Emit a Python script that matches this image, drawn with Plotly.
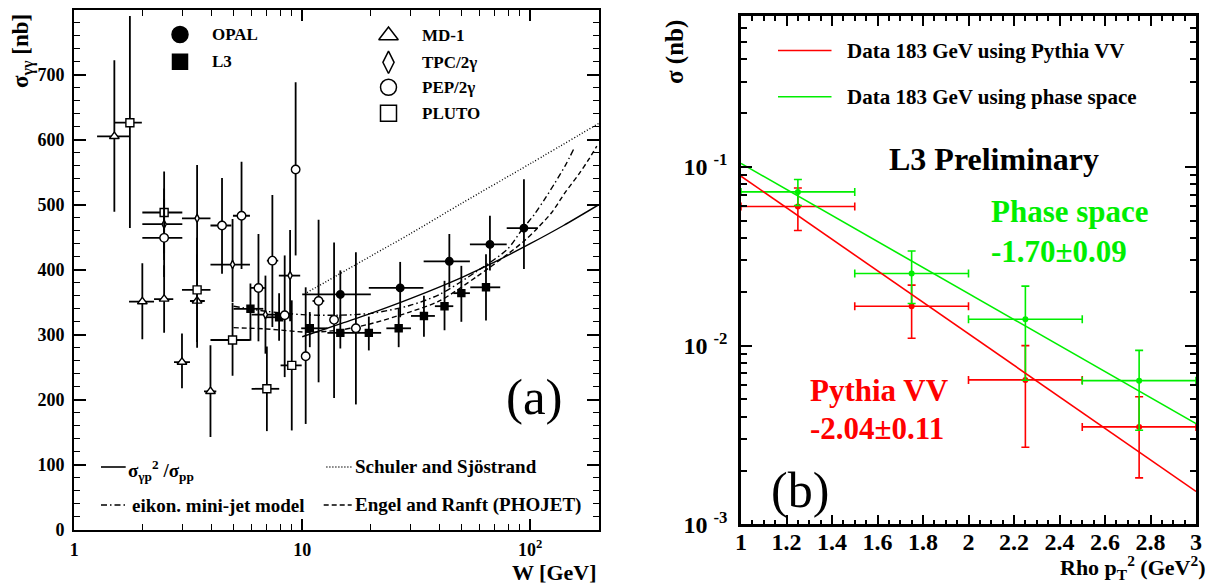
import plotly.graph_objects as go

# ================= Panel (a) data: sigma_gg vs W =================
# MD-1 (open triangles)
md1_W   = [1.50, 1.99, 2.48, 2.97, 3.46, 3.96]
md1_sig = [605, 351, 355, 258, 352, 213]
md1_up  = [117, 59, 52, 44, 72, 71]
md1_dn  = [116, 58, 52, 40, 72, 70]
md1_Wlo = [1.26, 1.74, 2.24, 2.74, 3.22, 3.71]
md1_Whi = [1.74, 2.24, 2.72, 3.22, 3.74, 4.20]
# TPC/2gamma (small open diamonds)
tpc_W   = [2.48, 3.46, 4.95, 6.90, 8.85]
tpc_sig = [470, 479, 408, 331, 391]
tpc_up  = [55, 82, 70, 60, 70]
tpc_dn  = [55, 82, 58, 60, 70]
tpc_Wlo = [1.99, 2.97, 3.96, 6.00, 7.90]
tpc_Whi = [2.98, 3.96, 5.90, 8.00, 9.80]
# PEP/2gamma (open circles)
pep_W   = [2.48, 4.45, 5.42, 6.43, 7.40, 8.38, 9.36, 10.36, 11.8, 13.8, 17.2]
pep_sig = [449, 468, 483, 372, 414, 330, 554, 267, 352, 323, 310]
pep_up  = [60, 73, 83, 83, 101, 92, 134, 106, 125, 119, 117]
pep_dn  = [60, 74, 82, 82, 102, 95, 132, 104, 125, 120, 117]
pep_Wlo = [1.99, 3.96, 4.97, 5.93, 7.00, 7.95, 9.36, 10.36, 11.1, 13.2, 16.3]
pep_Whi = [2.98, 4.89, 5.90, 6.86, 7.85, 8.90, 9.36, 10.36, 12.5, 14.3, 18.1]
# PLUTO (open squares)
pluto_W   = [1.755, 2.48, 3.46, 4.95, 7.00, 9.00]
pluto_sig = [626, 488, 369, 292, 217, 253]
pluto_up  = [164, 63, 80, 57, 65, 100]
pluto_dn  = [162, 63, 80, 55, 65, 100]
pluto_Wlo = [1.51, 1.99, 2.97, 3.96, 6.00, 8.04]
pluto_Whi = [1.98, 2.98, 3.96, 5.90, 7.93, 9.95]
# OPAL (filled circles)
opal_W   = [14.7, 26.9, 44.2, 66.6, 93.9]
opal_sig = [362, 372, 413, 439, 464]
opal_up  = [37, 40, 42, 44, 75]
opal_dn  = [37, 45, 40, 40, 63]
opal_Wlo = [10.0, 19.6, 34.1, 54.4, 78.9]
opal_Whi = [20.0, 34.0, 54.4, 78.9, 108.0]
# L3 (filled squares)
l3_W   = [5.93, 7.92, 10.8, 14.7, 19.6, 26.5, 34.2, 42.1, 49.9, 64.0]
l3_sig = [340, 327, 310, 303, 303, 310, 329, 344, 364, 373]
l3_up  = [39, 37, 25, 28, 25, 30, 31, 39, 42, 51]
l3_dn  = [49, 36, 29, 24, 27, 29, 32, 37, 44, 51]
l3_Wlo = [5.0, 6.8, 9.9, 12.9, 17.3, 23.4, 30.0, 38.2, 46.0, 54.6]
l3_Whi = [6.75, 8.8, 12.9, 17.3, 22.2, 30.0, 38.2, 46.0, 54.4, 73.9]
# model curves
ratio_W   = [10, 15, 20, 30, 50, 70, 100, 140, 200]
ratio_sig = [297, 318, 333, 356, 388, 412, 440, 468, 500]
ss_W   = [10.5, 20, 30, 50, 100, 200]
ss_sig = [365, 421, 456, 502, 563, 625]
eik_W   = [5, 7, 10, 14, 20, 29.6, 40, 58.6, 79.7, 91.4, 104.8, 116, 128.7, 142.5, 155]
eik_sig = [344, 336, 331, 330, 333, 345, 362, 398, 432, 460, 486, 509, 534, 560, 585]
pho_W   = [5, 7, 10.8, 15, 20, 29.6, 40, 58.6, 79.7, 94.6, 108.4, 124.3, 142.5, 163.5, 181, 196]
pho_sig = [311, 309, 304, 308, 317, 335, 352, 390, 424, 445, 465, 488, 519, 547, 570, 590]

a_xtickvals = [1, 10, 100]
a_xticktext = ["1", "10", "10<sup>2</sup>"]
a_xminor = [2, 3, 4, 5, 6, 7, 8, 9, 20, 30, 40, 50, 60, 70, 80, 90, 200]

# ================= Panel (b) data: sigma vs rho pT^2 =================
pt2      = [1.25, 1.75, 2.25, 2.75]
pt2_lo   = [1.0, 1.5, 2.0, 2.5]
pt2_hi   = [1.5, 2.0, 2.5, 3.0]
pyth_sig = [0.0600, 0.0166, 0.00643, 0.00351]
pyth_hi  = [0.0762, 0.0218, 0.0100, 0.00518]
pyth_lo  = [0.0440, 0.0110, 0.00270, 0.00182]
ps_sig   = [0.0724, 0.0253, 0.01403, 0.00637]
ps_hi    = [0.0849, 0.0338, 0.0215, 0.00940]
ps_lo    = [0.0608, 0.0172, 0.0064, 0.00336]
fit_pt2  = [1.0, 3.0]
pyth_fit = [0.0886, 0.00153]
ps_fit   = [0.1045, 0.00366]

b_xtickvals = [1.0, 1.2, 1.4, 1.6, 1.8, 2.0, 2.2, 2.4, 2.6, 2.8, 3.0]
b_xticktext = ["1", "1.2", "1.4", "1.6", "1.8", "2", "2.2", "2.4", "2.6", "2.8", "3"]
b_ytickvals = [0.001, 0.01, 0.1]
b_yticktext = ["10\u00a0<sup>-3</sup>", "10\u00a0<sup>-2</sup>", "10\u00a0<sup>-1</sup>"]
b_yminor = [k * 1e-3 for k in range(2, 10)] + [k * 1e-2 for k in range(2, 10)] + [k * 1e-1 for k in range(2, 7)]

# ================= styling / layout constants =================
SERIF = "Liberation Serif, Tinos, Times New Roman, serif"
W_PX, H_PX = 1209, 586
RED, GREEN = "#ff0000", "#00ee00"

fig = go.Figure()


def diff_hi(hi, v):
    return [h - x for h, x in zip(hi, v)]


def diff_lo(v, lo):
    return [x - l for x, l in zip(v, lo)]


def add_a(W, s, up, dn, Wlo, Whi, symbol, size, fill, name):
    fig.add_trace(go.Scatter(
        x=W, y=s, mode="markers", name=name, xaxis="x", yaxis="y", showlegend=False,
        marker=dict(symbol=symbol, size=size, color=fill, line=dict(color="black", width=1.4)),
        error_y=dict(type="data", symmetric=False, array=up, arrayminus=dn,
                     color="black", thickness=1.8, width=0),
        error_x=dict(type="data", symmetric=False, array=diff_hi(Whi, W), arrayminus=diff_lo(W, Wlo),
                     color="black", thickness=1.8, width=0),
    ))


# model curves (a)
curve_style = [
    (ratio_W, ratio_sig, "solid", "ratio"),
    (ss_W, ss_sig, "1px,2px", "Schuler and Sjöstrand"),
    (eik_W, eik_sig, "6px,3px,1.5px,3px", "eikon. mini-jet model"),
    (pho_W, pho_sig, "5px,3px", "Engel and Ranft (PHOJET)"),
]
for xs, ys, dash, nm in curve_style:
    fig.add_trace(go.Scatter(x=xs, y=ys, mode="lines", name=nm, xaxis="x", yaxis="y", showlegend=False,
                             line=dict(color="black", width=1.4, dash=dash, shape="spline", smoothing=0.8)))

add_a(l3_W, l3_sig, l3_up, l3_dn, l3_Wlo, l3_Whi, "square", 7, "black", "L3")
add_a(opal_W, opal_sig, opal_up, opal_dn, opal_Wlo, opal_Whi, "circle", 7.5, "black", "OPAL")
add_a(md1_W, md1_sig, md1_up, md1_dn, md1_Wlo, md1_Whi, "triangle-up", 8.5, "white", "MD-1")
add_a(pluto_W, pluto_sig, pluto_up, pluto_dn, pluto_Wlo, pluto_Whi, "square", 8, "white", "PLUTO")
add_a(tpc_W, tpc_sig, tpc_up, tpc_dn, tpc_Wlo, tpc_Whi, "diamond-tall", 6, "white", "TPC/2γ")
add_a(pep_W, pep_sig, pep_up, pep_dn, pep_Wlo, pep_Whi, "circle", 8.5, "white", "PEP/2γ")

# panel (b)
for sig, hi, lo, col, nm in [(pyth_sig, pyth_hi, pyth_lo, RED, "Pythia VV"),
                             (ps_sig, ps_hi, ps_lo, GREEN, "phase space")]:
    fig.add_trace(go.Scatter(
        x=pt2, y=sig, mode="markers", name=nm, xaxis="x2", yaxis="y2", showlegend=False,
        marker=dict(symbol="circle", size=6, color=col),
        error_y=dict(type="data", symmetric=False, array=diff_hi(hi, sig), arrayminus=diff_lo(sig, lo),
                     color=col, thickness=1.6, width=4),
        error_x=dict(type="data", symmetric=False, array=diff_hi(pt2_hi, pt2), arrayminus=diff_lo(pt2, pt2_lo),
                     color=col, thickness=1.6, width=4),
    ))
fig.add_trace(go.Scatter(x=fit_pt2, y=pyth_fit, mode="lines", xaxis="x2", yaxis="y2", showlegend=False,
                         line=dict(color=RED, width=1.6), name="fit Pythia"))
fig.add_trace(go.Scatter(x=fit_pt2, y=ps_fit, mode="lines", xaxis="x2", yaxis="y2", showlegend=False,
                         line=dict(color=GREEN, width=1.6), name="fit phase space"))

# ---------- legend keys on a pixel-space overlay (x3/y3) ----------
legend_markers = [
    # (x_px, y_px, symbol, size, fill)
    (180, 34.5, "circle", 16, "black"),
    (180, 61.7, "square", 15, "black"),
    (388.5, 35.5, "triangle-up", 17, "white"),
    (388.5, 62.3, "diamond-tall", 16, "white"),
    (388.5, 87.3, "circle", 16, "white"),
    (388.5, 113.3, "square", 16, "white"),
]
for xp, yp, sym, sz, fill in legend_markers:
    fig.add_trace(go.Scatter(x=[xp], y=[yp], mode="markers", xaxis="x3", yaxis="y3", showlegend=False,
                             hoverinfo="skip",
                             marker=dict(symbol=sym, size=sz, color=fill, line=dict(color="black", width=1.5))))
legend_lines = [
    # (x0, x1, y, color, dash)
    (101, 125.7, 467, "black", "solid"),
    (326.4, 352.4, 467, "black", "1px,2px"),
    (101, 125.7, 505, "black", "6px,3px,1.5px,3px"),
    (323.7, 351.7, 505, "black", "5px,3px"),
    (778, 831.5, 50.5, RED, "solid"),
    (778, 831.5, 96.8, GREEN, "solid"),
]
for x0, x1, yp, col, dash in legend_lines:
    fig.add_trace(go.Scatter(x=[x0, x1], y=[yp, yp], mode="lines", xaxis="x3", yaxis="y3", showlegend=False,
                             hoverinfo="skip", line=dict(color=col, width=1.6, dash=dash)))


def ann(text, x, y, size, color="black", xanchor="left", yanchor="middle", weight="bold", angle=0):
    fig.add_annotation(text=text, x=x, y=y, xref="x3", yref="y3", showarrow=False,
                       xanchor=xanchor, yanchor=yanchor, textangle=angle,
                       font=dict(family=SERIF, size=size, color=color, weight=weight))


# panel (a) texts
ann("OPAL", 210, 34.5, 17)
ann("L3", 210, 61.7, 17)
ann("MD-1", 420, 35.5, 17)
ann("TPC/2γ", 420, 62.3, 17)
ann("PEP/2γ", 420, 87.3, 17)
ann("PLUTO", 420, 113.3, 17)
ann("σ<sub>γp</sub><sup>2</sup> /σ<sub>pp</sub>", 126, 470, 19)
ann("Schuler and Sjöstrand", 353, 466, 19)
ann("eikon. mini-jet model", 130, 505, 19)
ann("Engel and Ranft (PHOJET)", 353, 505, 19)
ann("(a)", 534.5, 396.7, 51, xanchor="center", weight="normal")
ann("W [GeV]", 599, 572, 22, xanchor="right")
ann("σ<sub>γγ</sub> [nb]", 22, 51, 23, xanchor="center", angle=-90)
# panel (b) texts
ann("Data 183 GeV using Pythia VV", 845, 50.7, 21)
ann("Data 183 GeV using phase space", 845, 97, 21)
ann("L3 Preliminary", 994, 158.6, 32, xanchor="center")
ann("Phase space", 989, 211.4, 31, color=GREEN)
ann("-1.70±0.09", 989, 251, 31, color=GREEN)
ann("Pythia VV", 808, 390, 31, color=RED)
ann("-2.04±0.11", 808, 428.5, 31, color=RED)
ann("(b)", 800, 490, 50, xanchor="center", weight="normal")
ann("Rho p<sub>T</sub><sup>2</sup> (GeV<sup>2</sup>)", 1207, 585, 22, xanchor="right", yanchor="bottom")
ann("σ (nb)", 675, 52, 25, xanchor="center", angle=-90)

# ---------------- axes ----------------
dom_ax = [74.2 / W_PX, 598.8 / W_PX]
dom_ay = [1 - 530 / H_PX, 1 - 9.5 / H_PX]
dom_bx = [741 / W_PX, 1196 / W_PX]
dom_by = [1 - 524.4 / H_PX, 1 - 16.1 / H_PX]

tick_a = dict(family=SERIF, size=18, color="black", weight="bold")
tick_b = dict(family=SERIF, size=24, color="black", weight="bold")
frame = dict(showline=True, linecolor="black", mirror="allticks", ticks="inside", tickcolor="black",
             showgrid=False, zeroline=False, fixedrange=True, automargin=False)

fig.update_layout(
    width=W_PX, height=H_PX, autosize=False,
    margin=dict(l=0, r=0, t=0, b=0, pad=0, autoexpand=False),
    paper_bgcolor="white", plot_bgcolor="rgba(0,0,0,0)",
    showlegend=False,
    xaxis=dict(domain=dom_ax, anchor="y", type="log", range=[0, 2.301],
               tickmode="array", tickvals=a_xtickvals, ticktext=a_xticktext,
               ticklen=11, tickwidth=1.5, linewidth=2, tickfont=tick_a, ticklabelstandoff=2,
               minor=dict(tickmode="array", tickvals=a_xminor, ticks="inside", ticklen=6,
                          tickwidth=1.3, tickcolor="black", showgrid=False),
               **frame),
    yaxis=dict(domain=dom_ay, anchor="x", range=[0, 800], dtick=100,
               ticklen=12, tickwidth=1.5, linewidth=2, tickfont=tick_a, ticklabelstandoff=4,
               minor=dict(dtick=20, ticks="inside", ticklen=6, tickwidth=1.3, tickcolor="black",
                          showgrid=False),
               **frame),
    xaxis2=dict(domain=dom_bx, anchor="y2", range=[1, 3],
                tickmode="array", tickvals=b_xtickvals, ticktext=b_xticktext,
                ticklen=10, tickwidth=2, linewidth=2.5, tickfont=tick_b, ticklabelstandoff=-6,
                minor=dict(dtick=0.05, tick0=1, ticks="inside", ticklen=5, tickwidth=1.5,
                           tickcolor="black", showgrid=False),
                **frame),
    yaxis2=dict(domain=dom_by, anchor="x2", type="log", range=[-3, -0.157],
                tickmode="array", tickvals=b_ytickvals, ticktext=b_yticktext,
                ticklen=11, tickwidth=2, linewidth=2.5, tickfont=tick_b, ticklabelstandoff=6,
                minor=dict(tickmode="array", tickvals=b_yminor, ticks="inside", ticklen=6,
                           tickwidth=1.5, tickcolor="black", showgrid=False),
                **frame),
    xaxis3=dict(domain=[0, 1], anchor="y3", range=[0, W_PX], visible=False, fixedrange=True),
    yaxis3=dict(domain=[0, 1], anchor="x3", range=[H_PX, 0], visible=False, fixedrange=True),
)

fig.write_html("out.html",
               config={"displayModeBar": False, "responsive": False},
               post_script="document.body.style.margin='0';document.body.style.overflow='hidden';")
